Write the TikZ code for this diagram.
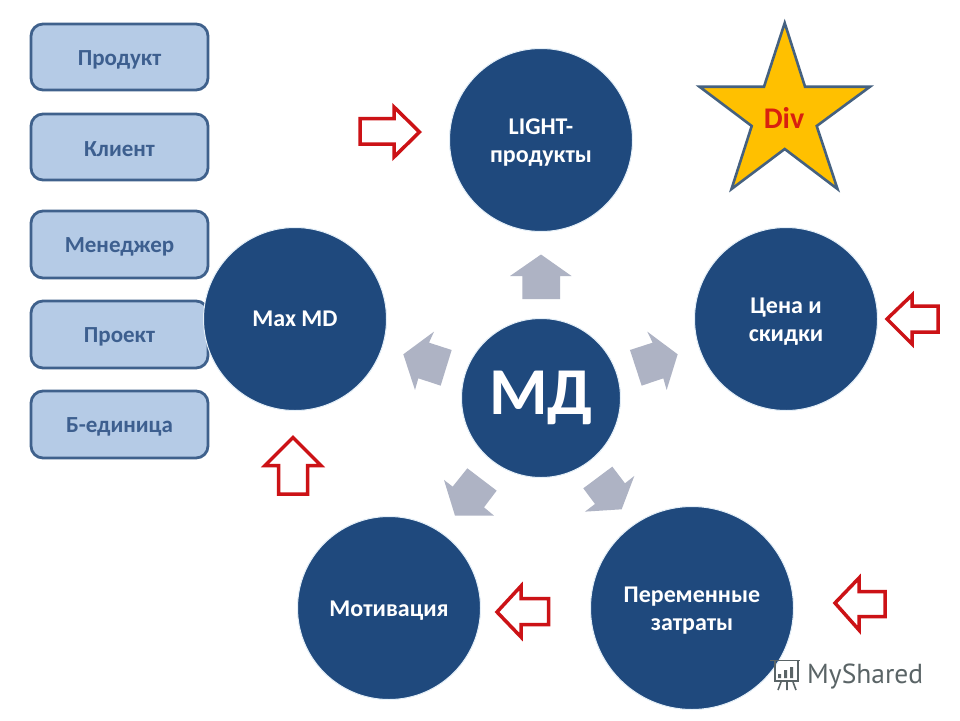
\documentclass[tikz,border=0pt]{standalone}
\usepackage{fontspec}
\setmainfont{Carlito}
\newfontfamily\wmfont{PT Sans}
\newcommand\dn[1]{\raisebox{-2.5pt}[\height][\depth]{#1}}
\definecolor{navy}{HTML}{1F497D}
\definecolor{halo}{HTML}{E4EFF8}
\definecolor{boxfill}{HTML}{B5CBE6}
\definecolor{boxline}{HTML}{3F618C}
\definecolor{boxtext}{HTML}{3D5F8F}
\definecolor{gold}{HTML}{FFC000}
\definecolor{starline}{HTML}{456180}
\definecolor{divred}{HTML}{D8200F}
\definecolor{redline}{HTML}{CC1216}
\definecolor{grayarrow}{HTML}{AEB3C4}
\definecolor{wm}{HTML}{5A6466}
\tikzset{
 x=1pt,y=-1pt,
 hub/.style={circle,fill=navy,draw=halo,line width=1pt,inner sep=0pt,align=center,text=white,
   font=\fontsize{24}{28}\selectfont\bfseries},
 side/.style={draw=boxline,fill=boxfill,line width=2.8pt,rounded corners=12pt,minimum width=177pt,
   inner sep=0pt,text=boxtext,font=\fontsize{23}{25}\selectfont\bfseries},
 redarrow/.style={draw=redline,fill=white,line width=3.5pt,miter limit=10},
 grayshape/.style={fill=grayarrow},
}
\begin{document}
\begin{tikzpicture}
\useasboundingbox (0,0) rectangle (960,720);
\fill[white] (0,0) rectangle (960,720);
% side boxes
\node[side,minimum height=66pt] (b1) at (119.5,57) {\dn{Продукт}};
\node[side,minimum height=66pt] (b2) at (119.5,147) {\dn{Клиент}};
\node[side,minimum height=67pt] (b3) at (119.5,244.5) {\dn{Менеджер}};
\node[side,minimum height=67pt] (b4) at (119.5,334.5) {\dn{Проект}};
\node[side,minimum height=67pt] (b5) at (119.5,424.5) {\dn{Б-единица}};
% circles
\node[hub,minimum size=183pt] (light) at (541,140) {\dn{LIGHT-}\\\dn{продукты}};
\node[hub,minimum size=183pt] (price) at (786,319) {\dn{Цена и}\\\dn{скидки}};
\node[hub,minimum size=203pt] (vari) at (692,608) {\dn{Переменные}\\\dn{затраты}};
\node[hub,minimum size=183pt] (motiv) at (389,608) {\dn{Мотивация}};
\node[hub,minimum size=183pt] (maxmd) at (295,319) {Max MD};
\node[hub,minimum size=159pt,font=\fontsize{67}{67}\selectfont\bfseries] (md) at (541,398) {МД};
% gray arrows
\fill[grayshape] (541,254.5)--(571.5,276)--(560,276)--(560,299)--(522.3,299)--(522.3,276)--(510,276)--cycle;
\begin{scope}[shift={(380,220)},x=0.3333pt,y=-0.3333pt]
\fill[grayshape] (893,403)--(860,510)--(850,475)--(785,497)--(750,390)--(818,368)--(802,335)--cycle;
\fill[grayshape] (70,403)--(162,335)--(147,368)--(215,390)--(182,497)--(115,475)--(105,510)--cycle;
\fill[grayshape] (697,740)--(610,805)--(645,852)--(615,875)--(725,868)--(763,768)--(735,790)--cycle;
\fill[grayshape] (262,745)--(350,812)--(312,862)--(342,887)--(225,887)--(192,780)--(218,800)--cycle;
\end{scope}
% red arrows
\draw[redarrow] (360,118.5)--(394,118.5)--(394,107)--(419.5,132)--(394,157)--(394,144)--(360,144)--cycle;
\draw[redarrow] (293,437.5)--(321,465.5)--(307.5,465.5)--(307.5,494)--(278.5,494)--(278.5,465.5)--(265,465.5)--cycle;
\draw[redarrow] (887,319)--(912,295)--(912,306)--(938,306)--(938,332)--(912,332)--(912,344)--cycle;
\draw[redarrow] (835,603)--(859,578)--(859,591.5)--(885,591.5)--(885,616.5)--(859,616.5)--(859,630)--cycle;
\draw[redarrow] (497,612)--(521,586)--(521,598.5)--(548.5,598.5)--(548.5,624.5)--(521,624.5)--(521,637)--cycle;
% star
\draw[fill=gold,draw=starline,line width=2.6pt,miter limit=10]
 (784.7,23)--(805,86.7)--(870,86.7)--(816.7,126)--(837.5,189)--(784.7,149)--(731.5,189)--(751.7,126)--(699.5,86.7)--(764,86.7)--cycle;
\node[text=divred,font=\fontsize{30}{30}\selectfont\bfseries] (div) at (784,118) {Div};
% watermark
\begin{scope}[draw=wm,line width=1.6pt]
\draw (770,660.5)--(800,660.5);
\draw (775,661)--(775,681)--(798,681)--(798,661);
\draw (781,682)--(778,690) (787,682)--(787,690) (793,682)--(796,690);
\fill[wm] (778,674) rectangle (781,678) (784,670) rectangle (787,678) (790,667) rectangle (793,678);
\end{scope}
\node[anchor=base west,inner sep=0pt,text=wm,font=\fontsize{27.5}{27.5}\selectfont\wmfont] (wmark) at (807,683) {MyShared};
\end{tikzpicture}
\end{document}
